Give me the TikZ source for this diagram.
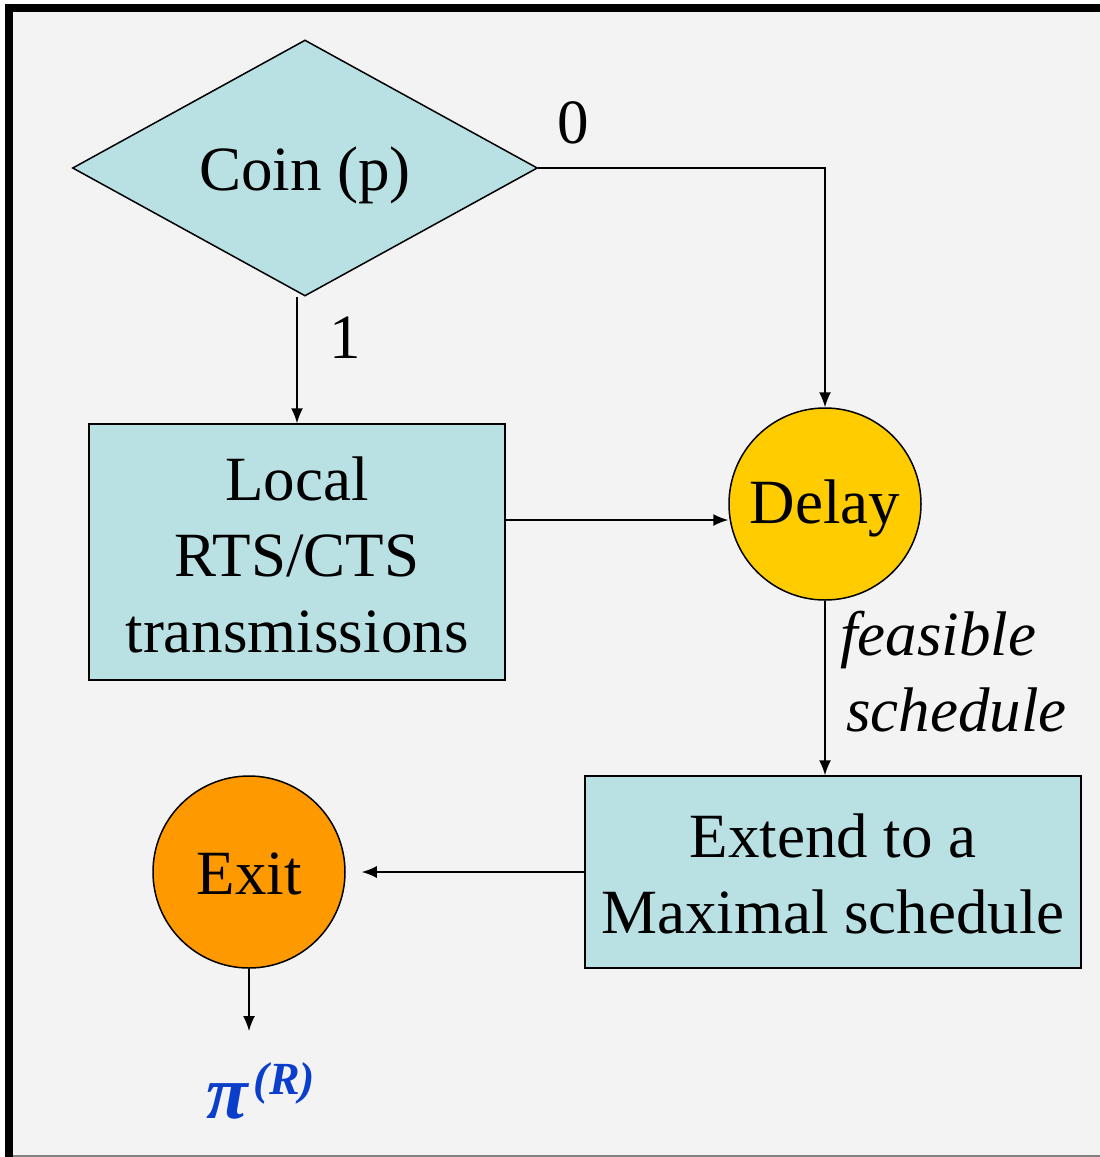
\documentclass[tikz,border=0pt]{standalone}
\usepackage{fontspec}
\setmainfont{Liberation Serif}
\usetikzlibrary{shapes.geometric,arrows.meta}
\definecolor{bgc}{HTML}{F3F3F3}
\definecolor{boxc}{HTML}{B9E0E3}
\definecolor{delayc}{HTML}{FFCC00}
\definecolor{exitc}{HTML}{FF9900}
\definecolor{pic}{HTML}{0B3FCB}
\newcommand{\dn}[2]{\raisebox{-#1}[\height][\depth]{#2}}
\tikzset{
  big/.style={font=\fontsize{63}{76}\selectfont},
  boxn/.style={draw=black,line width=1.5pt,fill=boxc,rectangle,align=center,inner sep=0pt,big},
  circn/.style={draw=black,line width=1.5pt,circle,minimum size=192pt,inner sep=0pt,big},
  arr/.style={draw=black,line width=1.5pt,-{Latex[length=15pt,width=12pt]}},
  lbl/.style={big,inner sep=0pt}
}
\begin{document}
\begin{tikzpicture}[x=1pt,y=-1pt]
\useasboundingbox (0,0) rectangle (1100,1157);
\fill[white] (0,0) rectangle (1100,1157);
\fill[bgc] (5,5) rectangle (1100,1157);
\fill[black] (5,4) rectangle (13,1157);
\fill[black] (5,4) rectangle (1100,12);
\fill[gray] (13,1155) rectangle (1100,1157);
% nodes
\node[draw=black,line width=1.5pt,fill=boxc,diamond,aspect=1.816,minimum width=465pt,minimum height=256pt,inner sep=0pt,big] (coin) at (305,168) {\dn{7pt}{Coin (p)}};
\node[boxn,minimum width=416pt,minimum height=256pt] (local) at (297,552) {\dn{3pt}{Local}\\\dn{3pt}{RTS/CTS}\\\dn{3pt}{transmissions}};
\node[circn,fill=delayc] (delay) at (825,504) {\dn{4pt}{Delay}};
\node[boxn,minimum width=496pt,minimum height=192pt] (extend) at (833,872) {\dn{2pt}{Extend to a}\\\dn{2pt}{Maximal schedule}};
\node[circn,fill=exitc] (exit) at (249,872) {\dn{2pt}{Exit}};
\coordinate (out) at (249,1031);
\node[inner sep=0pt,anchor=base west,text=pic] (pi) at (206,1118) {\fontsize{76}{76}\selectfont\bfseries\itshape π\hspace{6pt}\raisebox{24pt}{\fontsize{46}{46}\selectfont (R)}};
% labels
\node[lbl,anchor=base] (zero) at (573,143) {0};
\node[lbl,anchor=base] (one) at (345,358) {1};
\node[lbl,anchor=base west,font=\fontsize{63}{76}\selectfont\itshape] (feas) at (840,655) {feasible};
\node[lbl,anchor=base west,font=\fontsize{63}{76}\selectfont\itshape] (sched) at (846,731) {schedule};
% connectors
\draw[arr] (coin.east) -- (coin.east -| delay.north) -- (delay.north);
\draw[arr] (coin.south -| local.north) -- (local.north);
\draw[arr] (local.east |- 0,520) -- (delay.west |- 0,520);
\draw[arr] (delay.south) -- (delay.south |- extend.north);
\draw[arr,shorten >=16pt] (extend.west) -- (exit.east);
\draw[arr] (exit.south) -- (out);
\end{tikzpicture}
\end{document}
